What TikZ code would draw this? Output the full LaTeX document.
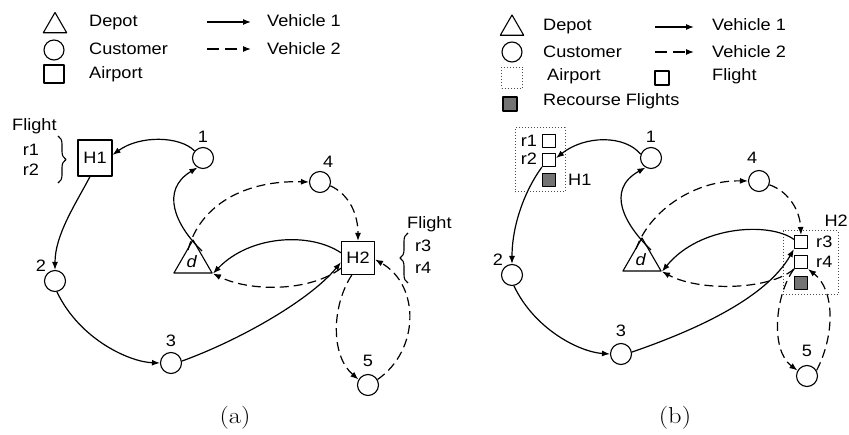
\documentclass[tikz,border=0pt]{standalone}
\usepackage{fontspec}
\usepackage{graphicx}
\setsansfont{Liberation Sans}[FakeStretch=1.1]
\usetikzlibrary{arrows.meta,shapes.geometric,decorations.pathreplacing,calc}
\tikzset{
  txt/.style={font=\sffamily\fontsize{16.5}{19}\selectfont, inner sep=0pt},
  lbl/.style={txt},
  cust/.style={circle, draw, line width=1.1pt, minimum size=21pt, inner sep=0pt},
  apt/.style={rectangle, draw, line width=1.1pt, minimum width=34pt, minimum height=36pt, inner sep=0pt, txt},
  depot/.style={regular polygon, regular polygon sides=3, draw, line width=1.1pt, minimum size=44pt, inner sep=0pt, txt},
  flt/.style={rectangle, draw, line width=1.1pt, minimum size=13pt, inner sep=0pt, fill=white},
  rflt/.style={flt, fill=black!55},
  hbox/.style={rectangle, draw=black!70, dotted, line width=1pt, inner sep=0pt},
  v1/.style={line width=1.2pt, -{Latex[length=8pt,width=6pt]}},
  v2/.style={v1, dash pattern=on 9pt off 5pt},
  v2l/.style={v1, dash pattern=on 12pt off 6pt},
  brc/.style={decorate, decoration={brace, amplitude=8pt}, line width=1.1pt},
  captxt/.style={font=\rmfamily\fontsize{23}{26}\selectfont, inner sep=0pt, anchor=base}
}
\begin{document}
\begin{tikzpicture}[x=1pt, y=-1pt, line join=round]
\useasboundingbox (0,0) rectangle (849,435);

% ---------------- legend (a)
\node[depot, minimum size=27pt] (lad) at (55,26) {};
\node[cust, minimum size=20pt] (lac) at (54,50) {};
\node[rectangle, draw, line width=1.1pt, minimum width=20pt, minimum height=18pt, inner sep=0pt] (laa) at (54,74) {};
\node[txt, anchor=base west] (ladt) at (89,26.5) {Depot};
\node[txt, anchor=base west] (lact) at (89,55) {Customer};
\node[txt, anchor=base west] (laat) at (89,78.5) {Airport};
\coordinate (la1s) at (207,22); \coordinate (la1e) at (251,22);
\coordinate (la2s) at (207,49); \coordinate (la2e) at (251,49);
\draw[v1] (la1s) -- (la1e);
\draw[v2l] (la2s) -- (la2e);
\node[txt, anchor=base west] (lav1) at (267,26.5) {Vehicle 1};
\node[txt, anchor=base west] (lav2) at (267,55) {Vehicle 2};

% ---------------- graph (a)
\node[apt] (H1) at (95,158) {H1};
\node[apt, minimum width=33pt, minimum height=33pt] (H2) at (358,258) {H2};
\node[cust, label={[lbl, label distance=4.5pt]90:1}] (a1) at (203,158) {};
\node[cust, label={[lbl, label distance=2pt]133:2}] (a2) at (55,281) {};
\node[cust, label={[lbl, label distance=5.5pt]90:3}] (a3) at (171,363) {};
\node[cust, label={[lbl, label distance=3.5pt]78:4}] (a4) at (320,182) {};
\node[cust, label={[lbl, label distance=7pt]90:5}] (a5) at (368,385) {};
\node[depot] (ad) at (193,262) {\kern-2pt\textit{d}};

\node[txt, anchor=base west] (fla) at (12,131) {Flight};
\node[txt, anchor=base] (r1a) at (31,156) {r1};
\node[txt, anchor=base] (r2a) at (31,176) {r2};
\coordinate (bra1) at (58,136); \coordinate (bra2) at (58,183);
\draw[brc] (bra1) -- (bra2);

\node[txt, anchor=base west] (flb) at (407,229) {Flight};
\node[txt, anchor=base west] (r3a) at (415,252) {r3};
\node[txt, anchor=base west] (r4a) at (415,274) {r4};
\coordinate (brb1) at (408,283); \coordinate (brb2) at (408,233);
\draw[brc] (brb1) -- (brb2);

\draw[v1] (a1.140) .. controls (180,136) and (140,135) .. (H1.10);
\draw[v1] (H1.-105) .. controls (75,205) and (55,235) .. (a2.north);
\draw[v1] (a2.-80) .. controls (80,340) and (130,362) .. (a3.west);
\draw[v1] (a3.10) .. controls (240,340) and (310,300) .. (H2.194);
\draw[v1] (H2.163) .. controls (310,232) and (250,235) .. (ad.corner 3);
\draw[v2] (H2.211) .. controls (310,292) and (250,292) .. (ad.corner 3);
\draw[v1] ($(ad.center)+(9,-11)$) .. controls (175,225) and (160,190) .. (a1.240);
\draw[v2] ($(ad.center)+(-5,-12)$) .. controls (200,205) and (245,180) .. (a4.west);
\draw[v2] (a4.-20) .. controls (350,195) and (358,215) .. (H2.north);
\draw[v2] (H2.-110) .. controls (332,305) and (330,355) .. (a5.150);
\draw[v2] (a5.30) .. controls (420,350) and (420,285) .. (H2.-5);

\node[captxt] (capa) at (235,424) {\scalebox{1.15}[1]{(a)}};

% ---------------- legend (b)
\node[depot, minimum size=27pt] (lbd) at (512,28.5) {};
\node[cust, minimum size=20pt] (lbc) at (512,52) {};
\node[hbox, minimum size=21pt] (lba) at (512,78) {};
\node[rflt, minimum size=14pt] (lbr) at (510,104) {};
\node[flt, minimum size=14pt] (lbf) at (662,78) {};
\node[txt, anchor=base west] (lbdt) at (543,30.5) {Depot};
\node[txt, anchor=base west] (lbct) at (543,58) {Customer};
\node[txt, anchor=base west] (lbat) at (547,81) {Airport};
\node[txt, anchor=base west] (lbrt) at (543,106) {Recourse Flights};
\node[txt, anchor=base west] (lbft) at (712,81) {Flight};
\coordinate (lb1s) at (655,27); \coordinate (lb1e) at (694,27);
\coordinate (lb2s) at (655,52); \coordinate (lb2e) at (694,52);
\draw[v1] (lb1s) -- (lb1e);
\draw[v2l] (lb2s) -- (lb2e);
\node[txt, anchor=base west] (lbv1) at (712,31) {Vehicle 1};
\node[txt, anchor=base west] (lbv2) at (712,58) {Vehicle 2};

% ---------------- graph (b)
\node[hbox, minimum width=50pt, minimum height=64pt] (H1b) at (540,160) {};
\node[hbox, minimum width=55pt, minimum height=64pt] (H2b) at (810.5,263) {};
\node[flt] (r1b) at (549,141) {};
\node[flt] (r2b) at (549,160) {};
\node[rflt] (g1b) at (549,180) {};
\node[flt] (r3b) at (801,242) {};
\node[flt] (r4b) at (801,262) {};
\node[rflt] (g2b) at (801,283) {};
\node[txt, anchor=base] (r1bt) at (529,147) {r1};
\node[txt, anchor=base] (r2bt) at (529,165) {r2};
\node[txt, anchor=base west] (h1bt) at (568,186) {H1};
\node[txt, anchor=base west] (r3bt) at (816,248) {r3};
\node[txt, anchor=base west] (r4bt) at (816,268) {r4};
\node[txt, anchor=base east] (h2bt) at (848,227) {H2};

\node[cust, label={[lbl, label distance=4.5pt]90:1}] (b1) at (651,158) {};
\node[cust, label={[lbl, label distance=2pt]133:2}] (b2) at (512,275) {};
\node[cust, label={[lbl, label distance=6.5pt]90:3}] (b3) at (621,354) {};
\node[cust, label={[lbl, label distance=6pt]95:4}] (b4) at (759,181) {};
\node[cust, label={[lbl, label distance=8pt]90:5}] (b5) at (807,376) {};
\node[depot] (bd) at (642,260) {\kern-2pt\textit{d}};

\draw[v1] (b1.160) .. controls (625,135) and (585,135) .. (r2b.15);
\draw[v1] (r2b.south west) .. controls (525,190) and (512,225) .. (b2.north);
\draw[v1] (b2.-80) .. controls (535,330) and (580,352) .. (b3.west);
\draw[v1] (b3.10) .. controls (690,332) and (765,300) .. (r3b.south west);
\draw[v1] (r3b.160) .. controls (770,222) and (700,225) .. (bd.corner 3);
\draw[v2] (r4b.south west) .. controls (770,290) and (700,292) .. (bd.corner 3);
\draw[v1] ($(bd.center)+(9,-10)$) .. controls (625,225) and (605,190) .. (b1.240);
\draw[v2] ($(bd.center)+(-6,-11)$) .. controls (650,210) and (695,180) .. (b4.west);
\draw[v2] (b4.-20) .. controls (790,192) and (800,212) .. (r3b.north);
\draw[v2] (r4b.south west) .. controls (775,295) and (770,350) .. (b5.150);
\draw[v2] (b5.30) .. controls (835,335) and (835,290) .. (r4b.south east);

\node[captxt] (capb) at (675,424) {\scalebox{1.15}[1]{(b)}};
\end{tikzpicture}
\end{document}
